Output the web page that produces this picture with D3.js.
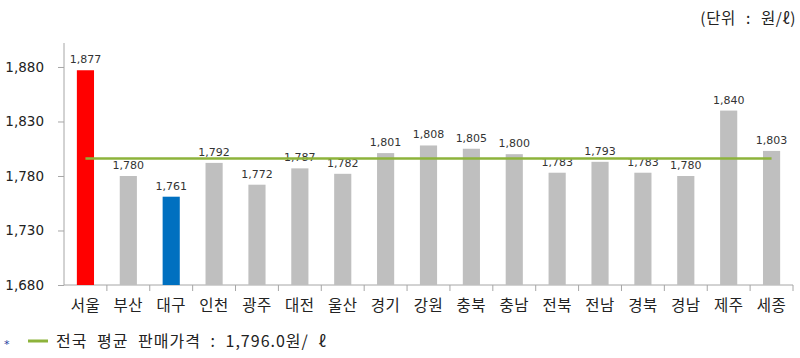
<!DOCTYPE html>
<html><head><meta charset="utf-8">
<script src="https://cdn.jsdelivr.net/npm/d3@7"></script>
<style>body{margin:0;background:#fff}svg{display:block}</style>
</head><body>
<svg id="c" width="800" height="358"></svg>
<script>
const categories = ["서울","부산","대구","인천","광주","대전","울산","경기","강원","충북","충남","전북","전남","경북","경남","제주","세종"];
const values = [1877,1780,1761,1792,1772,1787,1782,1801,1808,1805,1800,1783,1793,1783,1780,1840,1803];
const barColors = ["#ff0000","#bfbfbf","#0070c0","#bfbfbf","#bfbfbf","#bfbfbf","#bfbfbf","#bfbfbf","#bfbfbf","#bfbfbf","#bfbfbf","#bfbfbf","#bfbfbf","#bfbfbf","#bfbfbf","#bfbfbf","#bfbfbf"];
const yTicks = [1680,1730,1780,1830,1880];
const average = 1796.0;

const svg = d3.select("#c");
const font = "'Noto Sans CJK KR','Malgun Gothic',sans-serif";
const x = d3.scaleBand().domain(categories).range([64,793]).paddingInner(0.6).paddingOuter(0.3);
const xb = d3.scaleBand().domain(categories).range([64,793]);
const y = d3.scaleLinear().domain([1680,1902]).range([285,43]);

// y axis
const ya = svg.append("g").attr("transform","translate(64,0)")
  .call(d3.axisLeft(y).tickValues(yTicks).tickSize(6).tickPadding(14).tickFormat(d3.format(",")));
ya.select(".domain").attr("stroke","#a6a6a6").attr("d","M0,43V285");
ya.selectAll(".tick line").attr("stroke","#a6a6a6");
ya.selectAll(".tick text").attr("font-family","'DejaVu Sans',sans-serif").attr("font-size",13.5).attr("fill","#222");

// x axis (ticks at band boundaries)
const xg = svg.append("g").attr("transform","translate(0,285)");
xg.append("line").attr("x1",64).attr("x2",793).attr("stroke","#a6a6a6");
xg.selectAll("line.t").data(categories).enter().append("line").attr("class","t")
  .attr("x1",d=>xb(d)+xb.bandwidth()).attr("x2",d=>xb(d)+xb.bandwidth())
  .attr("y1",0).attr("y2",6).attr("stroke","#a6a6a6");
xg.selectAll("text").data(categories).enter().append("text")
  .attr("x",d=>xb(d)+xb.bandwidth()/2).attr("y",26).attr("text-anchor","middle")
  .attr("font-family",font).attr("font-size",15.5).attr("letter-spacing",0.5).attr("fill","#222").text(d=>d);

// bars
svg.selectAll("rect.b").data(values).enter().append("rect").attr("class","b")
  .attr("x",(d,i)=>x(categories[i])).attr("width",x.bandwidth())
  .attr("y",d=>y(d)).attr("height",d=>285-y(d)).attr("fill",(d,i)=>barColors[i]);

// value labels
svg.selectAll("text.v").data(values).enter().append("text").attr("class","v")
  .attr("x",(d,i)=>xb(categories[i])+xb.bandwidth()/2).attr("y",d=>y(d)-7)
  .attr("text-anchor","middle").attr("font-family","'DejaVu Sans',sans-serif")
  .attr("font-size",11).attr("fill","#333").text(d3.format(","));

// average line
svg.append("line")
  .attr("x1",xb(categories[0])+xb.bandwidth()/2)
  .attr("x2",xb(categories[categories.length-1])+xb.bandwidth()/2)
  .attr("y1",y(average)).attr("y2",y(average))
  .attr("stroke","#8db33b").attr("stroke-width",2.5);

// unit
svg.append("text").attr("x",796).attr("y",24).attr("text-anchor","end")
  .attr("font-family",font).attr("font-size",15.5).attr("word-spacing",6).attr("letter-spacing",0.6)
  .attr("fill","#222").text("(단위 : 원/ℓ)");

// legend
svg.append("text").attr("x",4).attr("y",348).attr("font-family","'DejaVu Sans',sans-serif")
  .attr("font-size",11).attr("fill","#1f3fa0").text("*");
svg.append("line").attr("x1",28).attr("x2",48).attr("y1",341).attr("y2",341)
  .attr("stroke","#8db33b").attr("stroke-width",3);
svg.append("text").attr("x",56).attr("y",347).attr("font-family",font)
  .attr("font-size",16).attr("letter-spacing",1).attr("word-spacing",5).attr("fill","#222")
  .text("전국 평균 판매가격 : " + d3.format(",.1f")(average) + "원/ ℓ");
</script>
</body></html>
